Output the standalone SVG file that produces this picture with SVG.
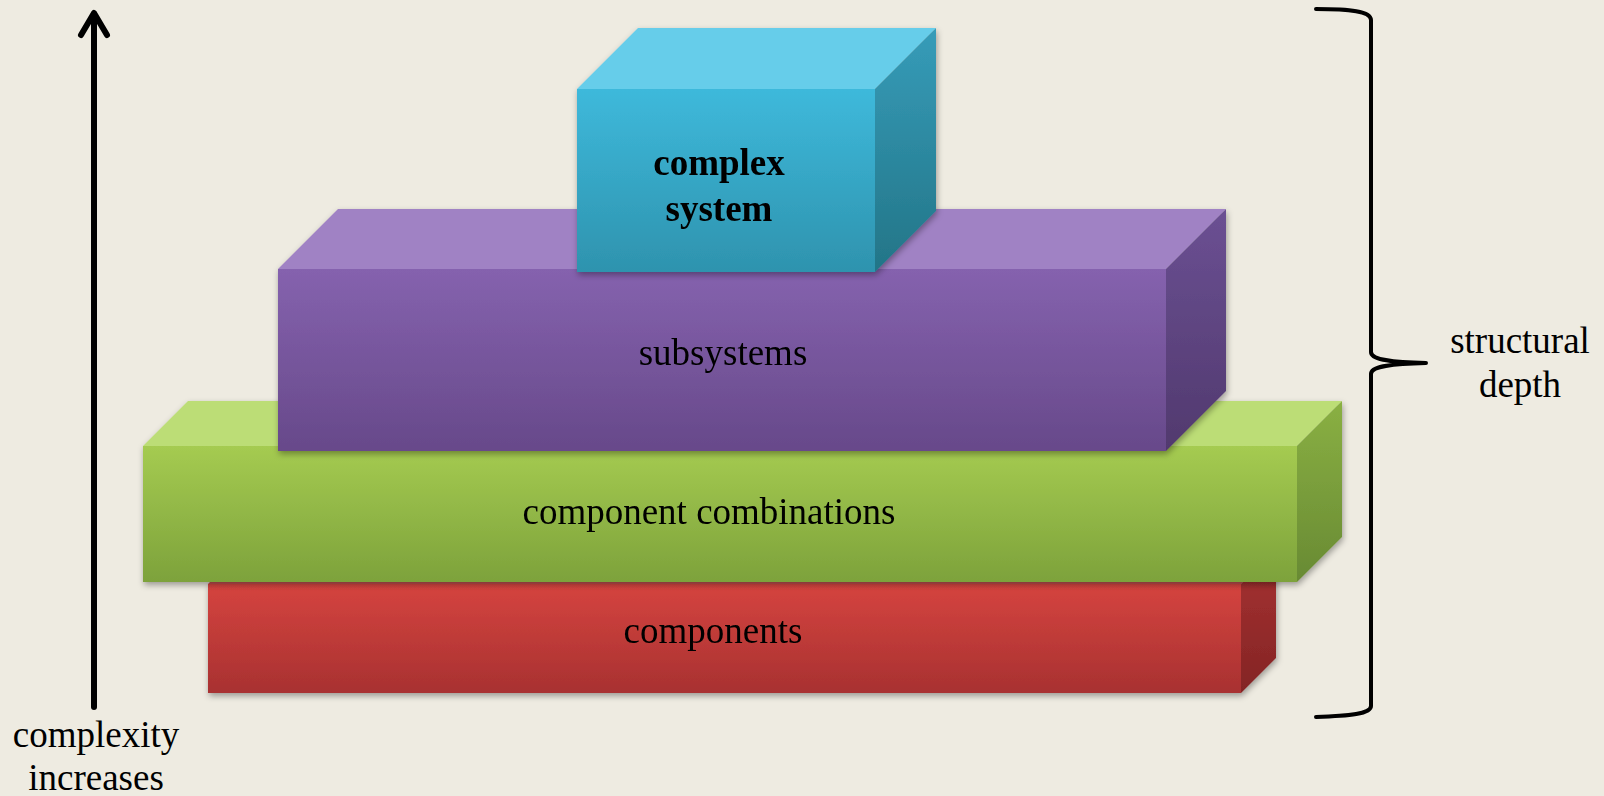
<svg xmlns="http://www.w3.org/2000/svg" width="1604" height="796" viewBox="0 0 1604 796">
  <defs>
    <style>
      .lbl { font-family: "Liberation Serif", "Times New Roman", serif; font-size: 37px; fill: #000; text-anchor: middle; }
      .bold { font-weight: bold; }
      .stroke { fill: none; stroke: #000; stroke-linecap: round; stroke-linejoin: round; }
    </style>
    <filter id="shadow" x="-5%" y="-10%" width="110%" height="130%">
      <feDropShadow dx="1" dy="3" stdDeviation="3" flood-color="#000" flood-opacity="0.35"/>
    </filter>
    <!-- front faces -->
    <linearGradient id="blueFront" x1="0" y1="0" x2="0" y2="1">
      <stop offset="0" stop-color="#3EB9DB"/>
      <stop offset="1" stop-color="#2E93AE"/>
    </linearGradient>
    <linearGradient id="blueSide" x1="0" y1="0" x2="0" y2="1">
      <stop offset="0" stop-color="#369CB9"/>
      <stop offset="1" stop-color="#237587"/>
    </linearGradient>
    <linearGradient id="purpleFront" x1="0" y1="0" x2="0" y2="1">
      <stop offset="0" stop-color="#8562AE"/>
      <stop offset="1" stop-color="#67498A"/>
    </linearGradient>
    <linearGradient id="purpleSide" x1="0" y1="0" x2="0" y2="1">
      <stop offset="0" stop-color="#6B5093"/>
      <stop offset="1" stop-color="#51396E"/>
    </linearGradient>
    <linearGradient id="greenFront" x1="0" y1="0" x2="0" y2="1">
      <stop offset="0" stop-color="#A5CB51"/>
      <stop offset="1" stop-color="#7DA23B"/>
    </linearGradient>
    <linearGradient id="greenSide" x1="0" y1="0" x2="0" y2="1">
      <stop offset="0" stop-color="#8AB043"/>
      <stop offset="1" stop-color="#688A33"/>
    </linearGradient>
    <linearGradient id="redFront" x1="0" y1="0" x2="0" y2="1">
      <stop offset="0" stop-color="#D5443F"/>
      <stop offset="1" stop-color="#A83131"/>
    </linearGradient>
    <linearGradient id="redSide" x1="0" y1="0" x2="0" y2="1">
      <stop offset="0" stop-color="#A83333"/>
      <stop offset="1" stop-color="#832424"/>
    </linearGradient>
  </defs>

  <rect x="0" y="0" width="1604" height="796" fill="#EEEBE1"/>

  <!-- bottom layer: components -->
  <g id="components" filter="url(#shadow)">
    <polygon points="208,584 243,549 1276,549 1241,584" fill="#C05050"/>
    <polygon points="1241,584 1276,549 1276,658 1241,693" fill="url(#redSide)"/>
    <rect x="208" y="584" width="1033" height="109" fill="url(#redFront)"/>
    <text class="lbl" x="713" y="643">components</text>
  </g>

  <!-- component combinations -->
  <g id="component-combinations" filter="url(#shadow)">
    <polygon points="143,446 188,401 1342,401 1297,446" fill="#BCDD76"/>
    <polygon points="1297,446 1342,401 1342,537 1297,582" fill="url(#greenSide)"/>
    <rect x="143" y="446" width="1154" height="136" fill="url(#greenFront)"/>
    <text class="lbl" x="709" y="524">component combinations</text>
  </g>

  <!-- subsystems -->
  <g id="subsystems" filter="url(#shadow)">
    <polygon points="278,269 338,209 1226,209 1166,269" fill="#A082C4"/>
    <polygon points="1166,269 1226,209 1226,391 1166,451" fill="url(#purpleSide)"/>
    <rect x="278" y="269" width="888" height="182" fill="url(#purpleFront)"/>
    <text class="lbl" x="723" y="365">subsystems</text>
  </g>

  <!-- top layer: complex system -->
  <g id="complex-system" filter="url(#shadow)">
    <polygon points="577,89 638,28 936,28 875,89" fill="#66CDEA"/>
    <polygon points="875,89 936,28 936,211 875,272" fill="url(#blueSide)"/>
    <rect x="577" y="89" width="298" height="183" fill="url(#blueFront)"/>
    <text class="lbl bold" x="719" y="175">complex</text>
    <text class="lbl bold" x="719" y="221">system</text>
  </g>

  <!-- axis arrow and brace -->
  <g id="connectors">
    <g id="complexity-arrow">
      <path class="stroke" d="M94,707 L94,14" stroke-width="6"/>
      <path class="stroke" d="M81,35 L94,13 L107,35" stroke-width="6"/>
    </g>
    <g id="depth-brace">
      <path class="stroke" stroke-width="4" d="M1316,9 C1350,9 1371,11 1371,20 L1371,352 C1371,359 1385,362 1426,363 C1385,364 1371,367 1371,374 L1371,706 C1371,714 1350,716 1316,717"/>
    </g>
  </g>

  <text class="lbl" x="96" y="747">complexity</text>
  <text class="lbl" x="96" y="790">increases</text>
  <text class="lbl" x="1520" y="353">structural</text>
  <text class="lbl" x="1520" y="397">depth</text>
</svg>
